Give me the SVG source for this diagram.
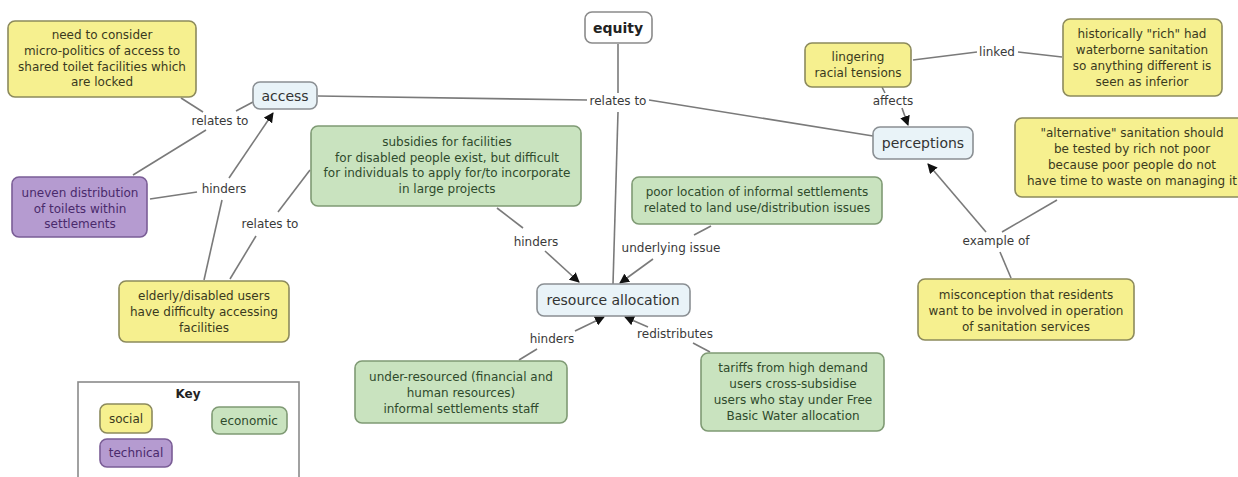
<svg xmlns="http://www.w3.org/2000/svg" width="1238" height="477" viewBox="0 0 1238 477">
<style>
text{font-family:"DejaVu Sans",Verdana,sans-serif;font-size:12px;text-anchor:middle}
.n rect{stroke-width:1.6}
.y rect{fill:#f6f08f;stroke:#8c8a5c}
.y text{fill:#3a3a1e}
.g rect{fill:#c9e3bf;stroke:#7f9a74}
.g text{fill:#2f4a2c}
.p rect{fill:#b59bd0;stroke:#7a5d96}
.p text{fill:#4a2a6c}
.b rect{fill:#e9f3f8;stroke:#8a8f93}
.b text{fill:#333;font-size:14px}
.w rect{fill:#fff;stroke:#8a8a8a}
.lbl{fill:#3a3a3a}
.c line{stroke:#7a7a7a;stroke-width:1.6}
.a{marker-end:url(#ar)}
</style>
<defs>
<marker id="ar" viewBox="0 0 10 10" refX="9" refY="5" markerWidth="10" markerHeight="10" markerUnits="userSpaceOnUse" orient="auto">
<path d="M0,0 L10,5 L0,10 z" fill="#111"/>
</marker>
</defs>
<rect width="1238" height="477" fill="#fff"/>
<g class="c" id="connectors">
<line x1="181" y1="98" x2="203" y2="112"/>
<line x1="236" y1="111" x2="253" y2="102"/>
<line x1="133" y1="175" x2="206" y2="130"/>
<line x1="150" y1="199" x2="197" y2="192"/>
<line class="a" x1="229" y1="178" x2="273" y2="113"/>
<line x1="222" y1="200" x2="204" y2="280"/>
<line x1="230" y1="279" x2="256" y2="236"/>
<line x1="278" y1="212" x2="310" y2="170"/>
<line x1="318" y1="96" x2="587" y2="100"/>
<line x1="649" y1="100" x2="873" y2="136"/>
<line x1="618" y1="44" x2="618" y2="93"/>
<line x1="618" y1="112" x2="613" y2="284"/>
<line x1="497" y1="208" x2="523" y2="228"/>
<line class="a" x1="545" y1="251" x2="579" y2="282"/>
<line x1="711" y1="226" x2="694" y2="235"/>
<line class="a" x1="653" y1="259" x2="620" y2="283"/>
<line x1="519" y1="360" x2="537" y2="349"/>
<line class="a" x1="575" y1="331" x2="604" y2="317"/>
<line x1="710" y1="352" x2="693" y2="343"/>
<line class="a" x1="648" y1="327" x2="625" y2="317"/>
<line x1="913" y1="60" x2="977" y2="52"/>
<line x1="1018" y1="52" x2="1062" y2="57"/>
<line x1="882" y1="87" x2="885" y2="93"/>
<line class="a" x1="902" y1="108" x2="908" y2="125"/>
<line class="a" x1="986" y1="232" x2="928" y2="164"/>
<line x1="1057" y1="200" x2="1002" y2="232"/>
<line x1="1011" y1="278" x2="1000" y2="252"/>
<text class="lbl" x="220" y="125">relates to</text>
<text class="lbl" x="224" y="193">hinders</text>
<text class="lbl" x="270" y="228">relates to</text>
<text class="lbl" x="618" y="105">relates to</text>
<text class="lbl" x="536" y="246">hinders</text>
<text class="lbl" x="671" y="252">underlying issue</text>
<text class="lbl" x="552" y="343">hinders</text>
<text class="lbl" x="675" y="338">redistributes</text>
<text class="lbl" x="997" y="56">linked</text>
<text class="lbl" x="893" y="105">affects</text>
<text class="lbl" x="996" y="245">example of</text>
</g>
<g id="need" class="n y"><rect x="8" y="21" width="188" height="76" rx="7"/>
<text x="102" y="39">need to consider</text><text x="102" y="55">micro-politics of access to</text><text x="102" y="70.5">shared toilet facilities which</text><text x="102" y="86">are locked</text></g>
<g id="access" class="n b"><rect x="253" y="82" width="64" height="27" rx="7"/><text x="285" y="101">access</text></g>
<g id="uneven" class="n p"><rect x="12" y="177" width="135" height="60" rx="7"/>
<text x="80" y="197">uneven distribution</text><text x="80" y="212.5">of toilets within</text><text x="80" y="228">settlements</text></g>
<g id="equity" class="n w"><rect x="585" y="12" width="67" height="31" rx="7"/><text x="618" y="33" style="font-size:14px;font-weight:bold;fill:#222">equity</text></g>
<g id="subsidies" class="n g"><rect x="311" y="126" width="270" height="80" rx="7"/>
<text x="447" y="146">subsidies for facilities</text><text x="447" y="161.5">for disabled people exist, but difficult</text><text x="447" y="177">for individuals to apply for/to incorporate</text><text x="447" y="193">in large projects</text></g>
<g id="poorloc" class="n g"><rect x="632" y="177" width="250" height="47" rx="7"/>
<text x="757" y="196">poor location of informal settlements</text><text x="757" y="212">related to land use/distribution issues</text></g>
<g id="resource" class="n b"><rect x="537" y="284" width="153" height="32" rx="7"/><text x="613" y="305">resource allocation</text></g>
<g id="underres" class="n g"><rect x="355" y="361" width="212" height="62" rx="7"/>
<text x="461" y="381">under-resourced (financial and</text><text x="461" y="397">human resources)</text><text x="461" y="413">informal settlements staff</text></g>
<g id="tariffs" class="n g"><rect x="701" y="353" width="183" height="78" rx="7"/>
<text x="793" y="372">tariffs from high demand</text><text x="793" y="388">users cross-subsidise</text><text x="793" y="404">users who stay under Free</text><text x="793" y="420">Basic Water allocation</text></g>
<g id="misconception" class="n y"><rect x="918" y="279" width="216" height="61" rx="7"/>
<text x="1026" y="299">misconception that residents</text><text x="1026" y="315">want to be involved in operation</text><text x="1026" y="331">of sanitation services</text></g>
<g id="elderly" class="n y"><rect x="119" y="281" width="170" height="61" rx="7"/>
<text x="204" y="300">elderly/disabled users</text><text x="204" y="316">have difficulty accessing</text><text x="204" y="332">facilities</text></g>
<g id="lingering" class="n y"><rect x="805" y="43" width="106" height="44" rx="7"/>
<text x="858" y="61">lingering</text><text x="858" y="77">racial tensions</text></g>
<g id="historically" class="n y"><rect x="1063" y="19" width="159" height="77" rx="7"/>
<text x="1142" y="38">historically "rich" had</text><text x="1142" y="54">waterborne sanitation</text><text x="1142" y="70">so anything different is</text><text x="1142" y="86">seen as inferior</text></g>
<g id="perceptions" class="n b"><rect x="873" y="127" width="100" height="32" rx="7"/><text x="923" y="148">perceptions</text></g>
<g id="alternative" class="n y"><rect x="1015" y="118" width="240" height="79" rx="7"/>
<text x="1132" y="137">"alternative" sanitation should</text><text x="1132" y="153">be tested by rich not poor</text><text x="1132" y="169">because poor people do not</text><text x="1132" y="185">have time to waste on managing it</text></g>
<g id="key">
<rect x="78" y="382" width="221" height="110" fill="#fff" stroke="#8a8a8a" stroke-width="1.6"/>
<text x="188" y="398" style="font-weight:bold;fill:#222">Key</text>
<g class="n y"><rect x="100" y="404" width="52" height="29" rx="7"/><text x="126" y="423">social</text></g>
<g class="n g"><rect x="212" y="407" width="75" height="27" rx="7"/><text x="249" y="425">economic</text></g>
<g class="n p"><rect x="100" y="439" width="72" height="28" rx="7"/><text x="136" y="457">technical</text></g>
</g>
</svg>
